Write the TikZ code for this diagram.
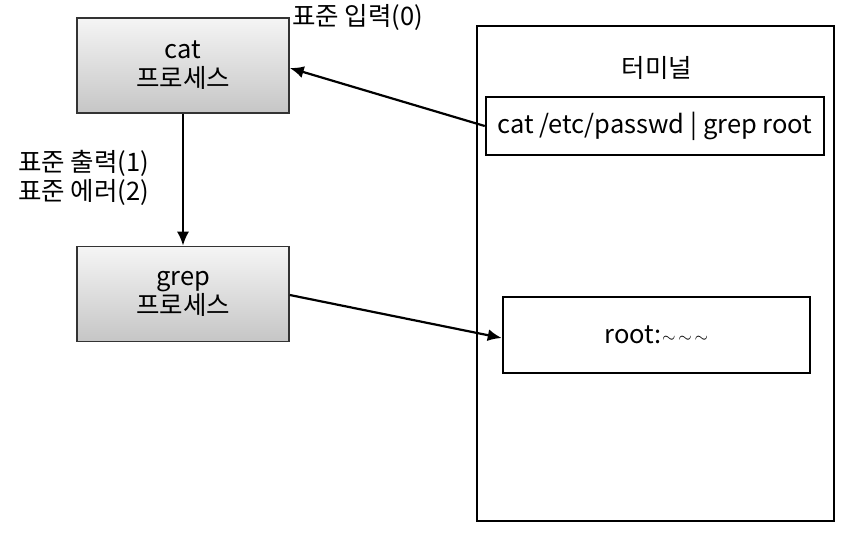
\documentclass[tikz,border=0pt]{standalone}
\usepackage{fontspec}
\setmainfont{Noto Sans CJK KR}
\usetikzlibrary{arrows.meta}
\def \FontSize {\fontsize{25.5}{29}\selectfont}
\tikzstyle{proc}=[
  draw=black!80,
  line width=1.5pt,
  top color=gray!8,
  bottom color=gray!45,
  minimum width=212,
  minimum height=95,
  align=center,
  font=\FontSize
]
\tikzstyle{term}=[
  draw=black,
  line width=2.5pt,
  align=center,
  font=\FontSize
]
\tikzstyle{lbl}=[
  align=left,
  font=\FontSize
]
\tikzstyle{conn}=[
  line width=2.2pt,
  -{Latex[length=14pt,width=12pt]}
]

\begin{document}
\begin{tikzpicture}[x=1pt,y=-1pt]
          \useasboundingbox (0,0) rectangle (851,534);

          \node[term,minimum width=357,minimum height=495] (tbox) at (655.5,273.5) {};
          \node[lbl] (ttl) at (657,68) {터미널};
          \node[term,minimum width=338,minimum height=58] (cmd) at (655,126) {cat /etc/passwd | grep root};
          \node[term,minimum width=307,minimum height=76] (res) at (656.5,335) {root:\raisebox{1pt}{\fontsize{17}{17}\selectfont$\sim\,\sim\,\sim$}};

          \node[proc] (cat) at (183,65.5) {cat\\프로세스};
          \node[proc] (grep) at (183,294) {grep\\프로세스};

          \node[lbl,anchor=west,inner sep=0pt] (in0) at (292,17) {표준 입력(0)};
          \node[lbl,anchor=west,inner sep=0pt] (out12) at (18,178) {표준 출력(1)\\표준 에러(2)};

          \draw[conn] (cmd.west) -- (cat.east |- 0,68);
          \draw[conn] (cat) -- (grep);
          \draw[conn] (grep.east |- 0,295) -- (res.west |- 0,338);
        \end{tikzpicture}
\end{document}
